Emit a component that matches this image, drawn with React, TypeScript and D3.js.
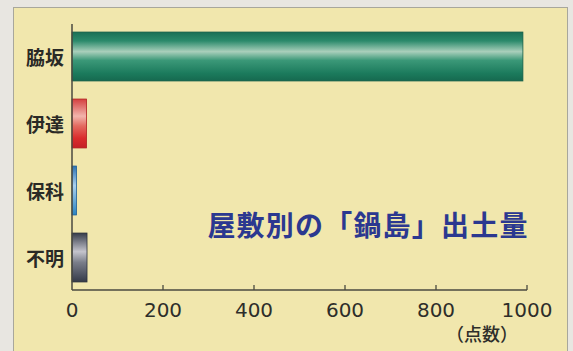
import React from "react";
import * as d3 from "d3";

const categories = ["脇坂", "伊達", "保科", "不明"];
const values = [991, 32, 10, 33];
const xTicks = [0, 200, 400, 600, 800, 1000];
const title = "屋敷別の「鍋島」出土量";
const unitLabel = "（点数）";

const gradients = [
  { id: "gGreen", stroke: "#145e48", stops: [["0%", "#1a6f55"], ["18%", "#2b8a6b"], ["40%", "#a9cfbb"], ["58%", "#3b9878"], ["85%", "#1b7a5c"], ["100%", "#16694f"]] },
  { id: "gRed", stroke: "#b02020", stops: [["0%", "#d44040"], ["35%", "#f2b4ac"], ["55%", "#e36a60"], ["80%", "#da2c2c"], ["100%", "#c42026"]] },
  { id: "gBlue", stroke: "#1d5f98", stops: [["0%", "#2c72b2"], ["40%", "#a8d0ee"], ["100%", "#2a84c2"]] },
  { id: "gGray", stroke: "#2a303c", stops: [["0%", "#363c4a"], ["38%", "#c4c4cc"], ["60%", "#7a7e8a"], ["100%", "#343a48"]] },
];

export default function App() {
  const W = 573, H = 351;
  const x = d3.scaleLinear().domain([0, 1000]).range([72, 527]);
  const y = d3.scaleBand<string>().domain(categories).range([23, 291]).paddingInner(0.27).paddingOuter(0.135);
  const axisY = 290;
  const axisColor = "#4a4a40";
  return (
    <svg width={W} height={H} style={{ position: "absolute", left: 0, top: 0, display: "block" }}>
      <defs>
        {gradients.map((g) => (
          <linearGradient key={g.id} id={g.id} x1="0" y1="0" x2="0" y2="1">
            {g.stops.map(([o, c]) => (
              <stop key={o} offset={o} stopColor={c} />
            ))}
          </linearGradient>
        ))}
      </defs>
      <rect x={0} y={0} width={W} height={H} fill="#e8e6e1" />
      <rect x={13.5} y={7.5} width={554} height={360} fill="#f1e7ad" stroke="#a8a79c" strokeWidth={1} />
      {categories.map((c, i) => {
        const y0 = y(c)!;
        const bw = y.bandwidth();
        return (
          <g key={c}>
            <rect
              x={x(0)}
              y={y0}
              width={x(values[i]) - x(0)}
              height={bw}
              fill={`url(#${gradients[i].id})`}
              stroke={gradients[i].stroke}
              strokeWidth={0.8}
            />
            <text
              x={64}
              y={y0 + bw / 2}
              textAnchor="end"
              dominantBaseline="central"
              fontFamily="'Noto Sans CJK JP', sans-serif"
              fontWeight={700}
              fontSize={19}
              fill="#2a2a26"
            >
              {c}
            </text>
          </g>
        );
      })}
      <line x1={x(0)} x2={x(0)} y1={24} y2={axisY} stroke={axisColor} strokeWidth={1.5} />
      <line x1={x(0)} x2={x(1000)} y1={axisY} y2={axisY} stroke={axisColor} strokeWidth={1.5} />
      {xTicks.map((t) => (
        <g key={t}>
          {t > 0 && <line x1={x(t)} x2={x(t)} y1={axisY} y2={axisY - 5} stroke={axisColor} strokeWidth={1.3} />}
          <text
            x={x(t)}
            y={310}
            textAnchor="middle"
            dominantBaseline="central"
            fontFamily="'DejaVu Sans', sans-serif"
            fontSize={20}
            fill="#2e2e2a"
          >
            {t}
          </text>
        </g>
      ))}
      <text
        x={482}
        y={333}
        textAnchor="middle"
        dominantBaseline="central"
        fontFamily="'Noto Sans CJK JP', sans-serif"
        fontWeight={500}
        fontSize={18}
        fill="#2e2e2a"
      >
        {unitLabel}
      </text>
      <text
        x={368}
        y={224}
        textAnchor="middle"
        dominantBaseline="central"
        fontFamily="'Noto Sans CJK JP', sans-serif"
        fontWeight={700}
        fontSize={28}
        letterSpacing={1.2}
        fill="#2b3890"
      >
        {title}
      </text>
    </svg>
  );
}
